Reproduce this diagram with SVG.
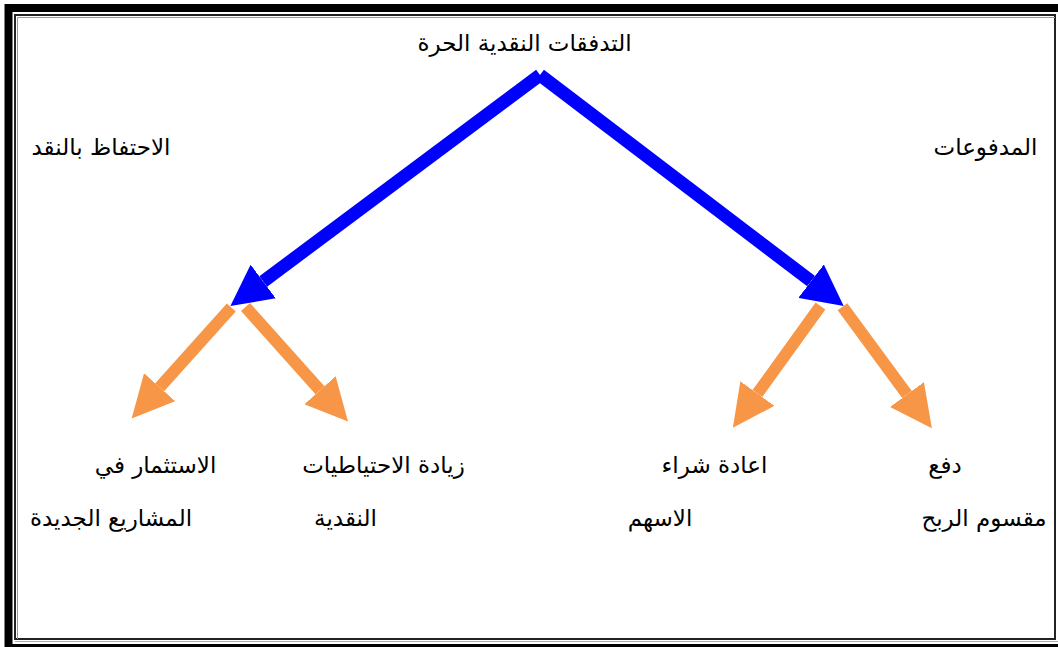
<svg xmlns="http://www.w3.org/2000/svg" width="1058" height="647" viewBox="0 0 1058 647">
<style>
.lbl{font-family:"DejaVu Sans","Noto Sans",sans-serif;font-size:23px;fill:#000;text-anchor:middle;direction:rtl}
.blue{stroke:#0000FF;stroke-width:13;fill:none}
.orange{stroke:#F79646;stroke-width:12;fill:none}
</style>
<defs>
<marker id="hb" markerUnits="userSpaceOnUse" markerWidth="42" markerHeight="42" refX="0" refY="20" orient="auto" viewBox="0 0 40 40">
<path d="M0,0 L39,20 L0,40 z" fill="#0000FF"/>
</marker>
<marker id="ho" markerUnits="userSpaceOnUse" markerWidth="42" markerHeight="42" refX="0" refY="20" orient="auto" viewBox="0 0 40 40">
<path d="M0,0 L40,20 L0,40 z" fill="#F79646"/>
</marker>
</defs>
<rect width="1058" height="647" fill="#fff"/>
<g id="frame">
<rect x="8.5" y="8" width="1070" height="640" fill="none" stroke="#000" stroke-width="8"/>
<rect x="15" y="15" width="1040" height="624" fill="none" stroke="#222" stroke-width="2"/>
<polyline points="17.5,639 17.5,17.5 1055,17.5" fill="none" stroke="#999" stroke-width="1"/>
<line x1="15" y1="641.5" x2="1058" y2="641.5" stroke="#aaa" stroke-width="1"/>
</g>
<g id="connectors">
<path class="blue" d="M540,75 L263.2,281.5" marker-end="url(#hb)"/>
<path class="blue" d="M540,75 L811.1,281.2" marker-end="url(#hb)"/>
<path class="orange" d="M231.3,307.5 L159.7,387.2" marker-end="url(#ho)"/>
<path class="orange" d="M245.5,307 L320,390.2" marker-end="url(#ho)"/>
<path class="orange" d="M820.5,306 L757.4,393.6" marker-end="url(#ho)"/>
<path class="orange" d="M842.5,306.7 L907,394.5" marker-end="url(#ho)"/>
</g>
<g id="node-root"><text class="lbl" x="524.5" y="51">التدفقات النقدية الحرة</text></g>
<g id="node-retain"><text class="lbl" x="101" y="155">الاحتفاظ بالنقد</text></g>
<g id="node-payments"><text class="lbl" x="985.5" y="155">المدفوعات</text></g>
<g id="node-invest"><text class="lbl" x="155.5" y="473">الاستثمار في</text><text class="lbl" x="111" y="526">المشاريع الجديدة</text></g>
<g id="node-reserves"><text class="lbl" x="383.5" y="473">زيادة الاحتياطيات</text><text class="lbl" x="345.5" y="526">النقدية</text></g>
<g id="node-buyback"><text class="lbl" x="714.5" y="473">اعادة شراء</text><text class="lbl" x="660" y="526">الاسهم</text></g>
<g id="node-dividend"><text class="lbl" x="945" y="473">دفع</text><text class="lbl" x="984" y="526">مقسوم الربح</text></g>
</svg>
